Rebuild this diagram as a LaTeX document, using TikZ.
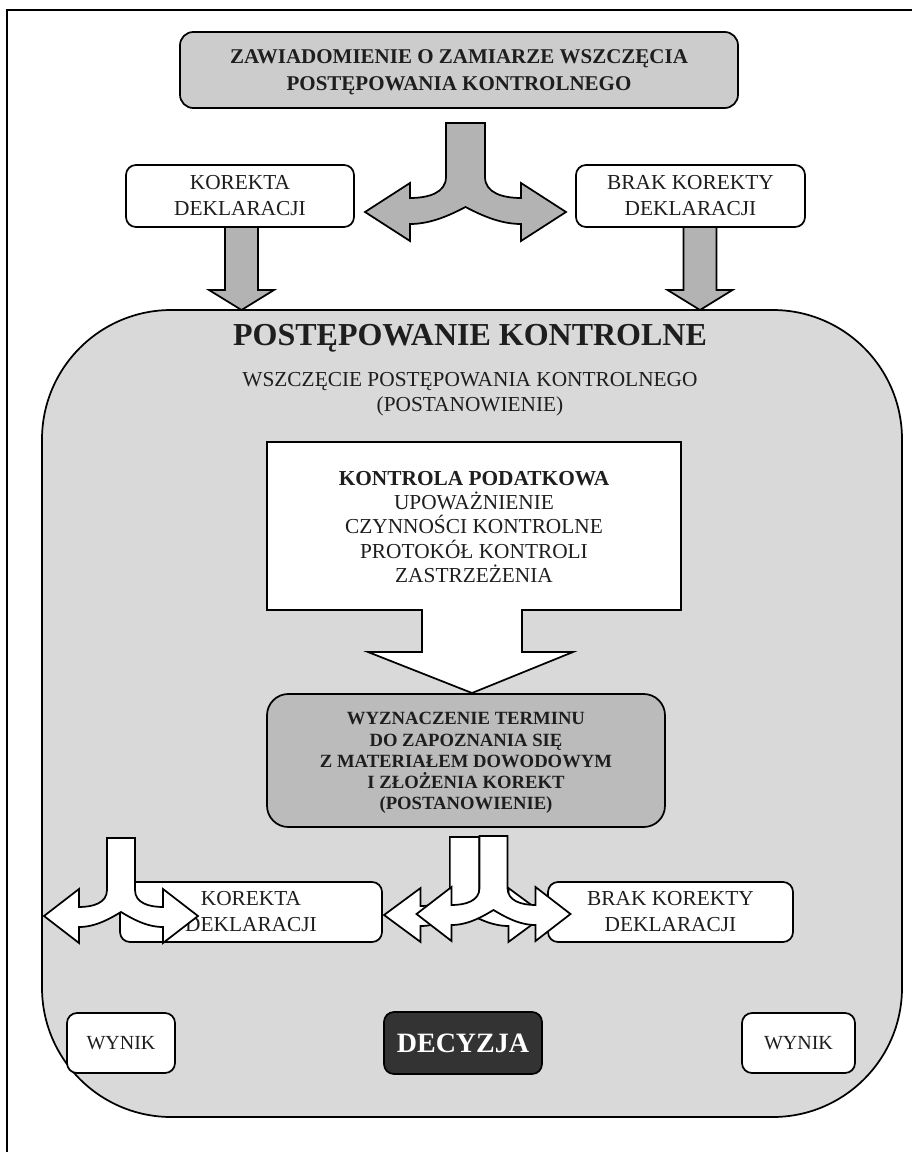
\documentclass[tikz,border=0pt]{standalone}
\usepackage{fontspec}
\setmainfont{Liberation Serif}
\definecolor{topfill}{RGB}{204,204,204}
\definecolor{arrowgray}{RGB}{179,179,179}
\definecolor{bigfill}{RGB}{217,217,217}
\definecolor{wyzfill}{RGB}{187,187,187}
\definecolor{decfill}{RGB}{51,51,51}
\definecolor{ink}{RGB}{30,30,30}
\tikzset{
  outl/.style={draw=black, line width=1.3pt, line join=round},
  whitebox/.style={outl, fill=white, rounded corners=7.5pt, inner sep=0pt, align=center, text=ink,
    font=\fontsize{16pt}{19.5pt}\selectfont},
  grayarrow/.style={outl, fill=arrowgray, line join=miter},
  whitearrow/.style={outl, fill=white, line join=miter},
  downgray/.pic={\path[grayarrow] (-16.5,0) -- (-16.5,63) -- (-32.5,63) -- (0,83) -- (32.5,63) -- (16.5,63) -- (16.5,0) -- cycle;},
  splitw/.pic={\path[whitearrow] (-14,-78) -- (-14,-26) .. controls (-14,-13) and (-28,-9) .. (-42,-9)
      -- (-42,-27) -- (-77,0) -- (-42,27) -- (-42,11)
      .. controls (-25,11) and (-10,2) .. (0,-4)
      .. controls (10,2) and (25,11) .. (42,11)
      -- (42,27) -- (77,0) -- (42,-27) -- (42,-9)
      .. controls (28,-9) and (14,-13) .. (14,-26) -- (14,-78) -- cycle;}
}
\begin{document}
\begin{tikzpicture}[x=0.75pt,y=-0.75pt]
\useasboundingbox (0,0) rectangle (911,1152);
% frame
\draw[line width=1.5pt] (7,1160) -- (7,10) -- (920,10);
% top box
\node[outl, fill=topfill, rounded corners=10pt, minimum width=418.5pt, minimum height=57pt, inner sep=0pt] (top) at (459,70) {};
\node[align=center, text=ink, inner sep=0pt, font=\bfseries\fontsize{15.75pt}{20pt}\selectfont] (toptext) at (459,72)
  {ZAWIADOMIENIE O ZAMIARZE WSZCZĘCIA\\POSTĘPOWANIA KONTROLNEGO};
% top split arrow
\path[grayarrow] (446,123) -- (446,177) .. controls (446,193) and (428,198) .. (410,198)
  -- (410,183) -- (365,212) -- (410,241) -- (410,224)
  .. controls (432,224) and (452,214) .. (465.5,207)
  .. controls (479,214) and (499,224) .. (521,224)
  -- (521,241) -- (566,212) -- (521,183) -- (521,198)
  .. controls (503,198) and (485,193) .. (485,177) -- (485,123) -- cycle;
% upper boxes
\node[whitebox, minimum width=171pt, minimum height=46.5pt] (korL) at (240,196) {KOREKTA\\DEKLARACJI};
\node[whitebox, minimum width=171.75pt, minimum height=46.5pt] (korR) at (690.5,196) {BRAK KOREKTY\\DEKLARACJI};
% down arrows
\pic at (241.5,227) {downgray};
\pic at (700,227) {downgray};
% big box
\node[outl, fill=bigfill, rounded corners=97pt, minimum width=645pt, minimum height=605.25pt, inner sep=0pt] (big) at (472,713.5) {};
\node[text=ink, font=\bfseries\fontsize{24pt}{28pt}\selectfont, inner sep=0pt] (title) at (470,338) {POSTĘPOWANIE KONTROLNE};
\node[text=ink, align=center, font=\fontsize{16pt}{18.75pt}\selectfont, inner sep=0pt] (wsz) at (470,394) {WSZCZĘCIE POSTĘPOWANIA KONTROLNEGO\\(POSTANOWIENIE)};
% kontrola box with arrow
\path[whitearrow] (267,442) -- (681,442) -- (681,610) -- (522,610) -- (522,652) -- (573,652) -- (472,693)
  -- (368,652) -- (422,652) -- (422,610) -- (267,610) -- cycle;
\node[text=ink, align=center, font=\fontsize{16pt}{18.2pt}\selectfont, inner sep=0pt] (kon) at (474,527)
  {\textbf{KONTROLA PODATKOWA}\\UPOWAŻNIENIE\\CZYNNOŚCI KONTROLNE\\PROTOKÓŁ KONTROLI\\ZASTRZEŻENIA};
% wyznaczenie
\node[outl, fill=wyzfill, rounded corners=16pt, minimum width=298.5pt, minimum height=99.75pt, inner sep=0pt] (wyz) at (466,760.5) {};
\node[align=center, text=ink, inner sep=0pt, font=\bfseries\fontsize{14pt}{15.9pt}\selectfont] (wyztext) at (466,763)
  {WYZNACZENIE TERMINU\\DO ZAPOZNANIA SIĘ\\Z MATERIAŁEM DOWODOWYM\\I ZŁOŻENIA KOREKT\\(POSTANOWIENIE)};
% bottom boxes
\node[whitebox, minimum width=196.5pt, minimum height=45pt] (korB) at (251,912) {KOREKTA\\DEKLARACJI};
\node[whitebox, minimum width=183.75pt, minimum height=45pt] (brakB) at (670.5,912) {BRAK KOREKTY\\DEKLARACJI};
% white split arrows
\pic at (121,916) {splitw};
\pic[xscale=1.045] at (464.5,915) {splitw};
\pic at (493.5,914) {splitw};
% results
\node[whitebox, font=\fontsize{15pt}{18pt}\selectfont, minimum width=81pt, minimum height=45pt] (wynL) at (121,1043) {WYNIK};
\node[outl, fill=decfill, rounded corners=7.5pt, inner sep=0pt, text=white, font=\bfseries\fontsize{21pt}{24pt}\selectfont,
  minimum width=118.5pt, minimum height=46.5pt] (dec) at (463,1043) {DECYZJA};
\node[whitebox, font=\fontsize{15pt}{18pt}\selectfont, minimum width=84.75pt, minimum height=45pt] (wynR) at (798.5,1043) {WYNIK};
\end{tikzpicture}
\end{document}
